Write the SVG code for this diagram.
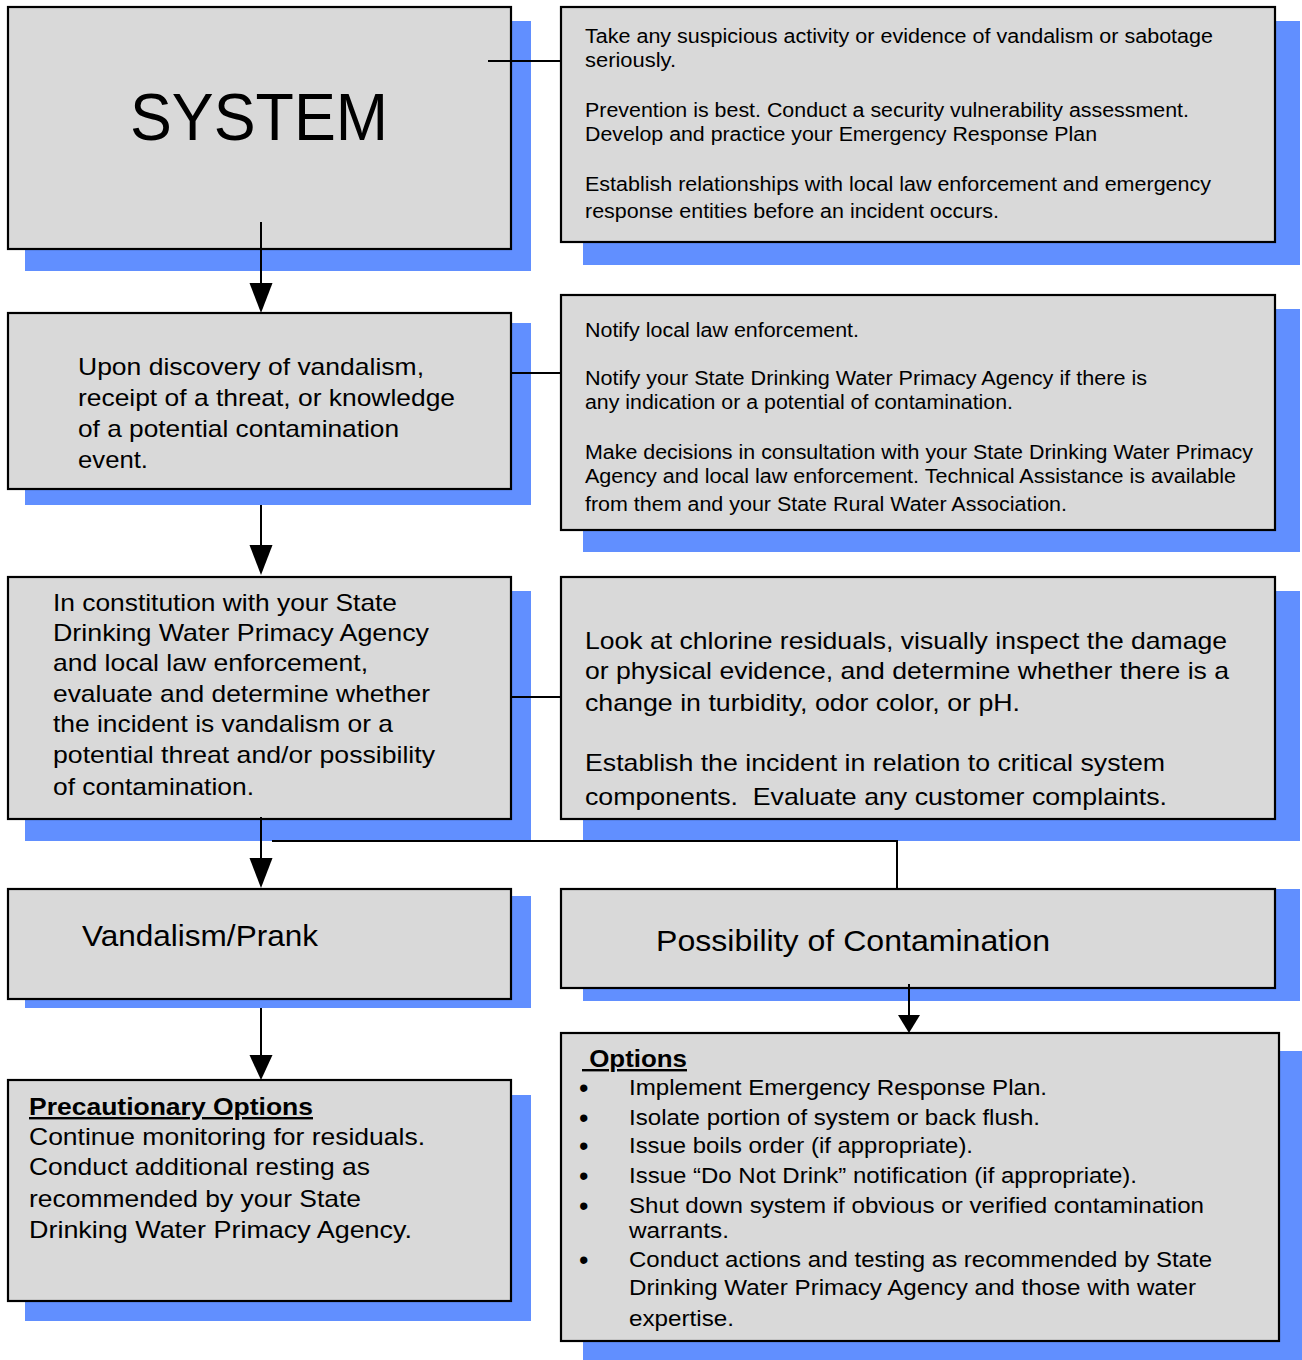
<svg xmlns="http://www.w3.org/2000/svg" width="1302" height="1360" viewBox="0 0 1302 1360">
<defs>
<style>
.sh{fill:#618fff;}
.bx{fill:#d9d9d9;stroke:#000;stroke-width:2.2;}
text{font-family:"Liberation Sans",Arial,sans-serif;fill:#000;}
.s20{font-size:20px;}
.s22{font-size:22px;}
.s24{font-size:24px;}
.b{font-weight:bold;text-decoration:underline;}
.ln{stroke:#000;stroke-width:2;fill:none;}
.bul{font-size:27px;}
</style>
</defs>
<rect width="1302" height="1360" fill="#fff"/>

<g id="system">
<rect class="sh" x="25" y="21" width="506" height="250"/>
<rect class="bx" x="8" y="7" width="503" height="242"/>
<text x="130" y="140" font-size="67" textLength="258" lengthAdjust="spacingAndGlyphs">SYSTEM</text>
</g>

<g id="prevention">
<rect class="sh" x="583" y="21" width="717" height="244"/>
<rect class="bx" x="561" y="7" width="714" height="235"/>
<text class="s20" x="585" y="43" textLength="628" lengthAdjust="spacingAndGlyphs">Take any suspicious activity or evidence of vandalism or sabotage</text>
<text class="s20" x="585" y="67" textLength="91" lengthAdjust="spacingAndGlyphs">seriously.</text>
<text class="s20" x="585" y="117" textLength="604" lengthAdjust="spacingAndGlyphs">Prevention is best. Conduct a security vulnerability assessment.</text>
<text class="s20" x="585" y="141" textLength="512" lengthAdjust="spacingAndGlyphs">Develop and practice your Emergency Response Plan</text>
<text class="s20" x="585" y="191" textLength="626" lengthAdjust="spacingAndGlyphs">Establish relationships with local law enforcement and emergency</text>
<text class="s20" x="585" y="218" textLength="414" lengthAdjust="spacingAndGlyphs">response entities before an incident occurs.</text>
</g>

<g id="discovery">
<rect class="sh" x="25" y="323" width="506" height="182"/>
<rect class="bx" x="8" y="313" width="503" height="176"/>
<text class="s24" x="78" y="375" textLength="346" lengthAdjust="spacingAndGlyphs">Upon discovery of vandalism,</text>
<text class="s24" x="78" y="406" textLength="377" lengthAdjust="spacingAndGlyphs">receipt of a threat, or knowledge</text>
<text class="s24" x="78" y="437" textLength="321" lengthAdjust="spacingAndGlyphs">of a potential contamination</text>
<text class="s24" x="78" y="468" textLength="70" lengthAdjust="spacingAndGlyphs">event.</text>
</g>

<g id="notify">
<rect class="sh" x="583" y="309" width="717" height="243"/>
<rect class="bx" x="561" y="295" width="714" height="235"/>
<text class="s20" x="585" y="337" textLength="274" lengthAdjust="spacingAndGlyphs">Notify local law enforcement.</text>
<text class="s20" x="585" y="385" textLength="562" lengthAdjust="spacingAndGlyphs">Notify your State Drinking Water Primacy Agency if there is</text>
<text class="s20" x="585" y="409" textLength="428" lengthAdjust="spacingAndGlyphs">any indication or a potential of contamination.</text>
<text class="s20" x="585" y="459" textLength="668" lengthAdjust="spacingAndGlyphs">Make decisions in consultation with your State Drinking Water Primacy</text>
<text class="s20" x="585" y="483" textLength="651" lengthAdjust="spacingAndGlyphs">Agency and local law enforcement. Technical Assistance is available</text>
<text class="s20" x="585" y="511" textLength="482" lengthAdjust="spacingAndGlyphs">from them and your State Rural Water Association.</text>
</g>

<g id="evaluate">
<rect class="sh" x="25" y="591" width="506" height="250"/>
<rect class="bx" x="8" y="577" width="503" height="242"/>
<text class="s24" x="53" y="611" textLength="344" lengthAdjust="spacingAndGlyphs">In constitution with your State</text>
<text class="s24" x="53" y="641" textLength="376" lengthAdjust="spacingAndGlyphs">Drinking Water Primacy Agency</text>
<text class="s24" x="53" y="671" textLength="315" lengthAdjust="spacingAndGlyphs">and local law enforcement,</text>
<text class="s24" x="53" y="702" textLength="377" lengthAdjust="spacingAndGlyphs">evaluate and determine whether</text>
<text class="s24" x="53" y="732" textLength="340" lengthAdjust="spacingAndGlyphs">the incident is vandalism or a</text>
<text class="s24" x="53" y="763" textLength="382" lengthAdjust="spacingAndGlyphs">potential threat and/or possibility</text>
<text class="s24" x="53" y="795" textLength="201" lengthAdjust="spacingAndGlyphs">of contamination.</text>
</g>

<g id="inspect">
<rect class="sh" x="583" y="591" width="717" height="250"/>
<rect class="bx" x="561" y="577" width="714" height="242"/>
<text class="s24" x="585" y="649" textLength="642" lengthAdjust="spacingAndGlyphs">Look at chlorine residuals, visually inspect the damage</text>
<text class="s24" x="585" y="679" textLength="644" lengthAdjust="spacingAndGlyphs">or physical evidence, and determine whether there is a</text>
<text class="s24" x="585" y="711" textLength="435" lengthAdjust="spacingAndGlyphs">change in turbidity, odor color, or pH.</text>
<text class="s24" x="585" y="771" textLength="580" lengthAdjust="spacingAndGlyphs">Establish the incident in relation to critical system</text>
<text class="s24" x="585" y="805" textLength="582" lengthAdjust="spacingAndGlyphs" xml:space="preserve">components.  Evaluate any customer complaints.</text>
</g>

<g id="vandalism">
<rect class="sh" x="25" y="896" width="506" height="112"/>
<rect class="bx" x="8" y="889" width="503" height="110"/>
<text x="82" y="946" font-size="29" textLength="236" lengthAdjust="spacingAndGlyphs">Vandalism/Prank</text>
</g>

<g id="possibility">
<rect class="sh" x="583" y="889" width="717" height="112"/>
<rect class="bx" x="561" y="889" width="714" height="99"/>
<text x="656" y="951" font-size="30" textLength="394" lengthAdjust="spacingAndGlyphs">Possibility of Contamination</text>
</g>

<g id="precautionary">
<rect class="sh" x="25" y="1095" width="506" height="226"/>
<rect class="bx" x="8" y="1080" width="503" height="221"/>
<text class="s24 b" x="29" y="1115" textLength="284" lengthAdjust="spacingAndGlyphs">Precautionary Options</text>
<text class="s24" x="29" y="1145" textLength="396" lengthAdjust="spacingAndGlyphs">Continue monitoring for residuals.</text>
<text class="s24" x="29" y="1175" textLength="341" lengthAdjust="spacingAndGlyphs">Conduct additional resting as</text>
<text class="s24" x="29" y="1207" textLength="332" lengthAdjust="spacingAndGlyphs">recommended by your State</text>
<text class="s24" x="29" y="1238" textLength="383" lengthAdjust="spacingAndGlyphs">Drinking Water Primacy Agency.</text>
</g>

<g id="options">
<rect class="sh" x="583" y="1051" width="719" height="309"/>
<rect class="bx" x="561" y="1033" width="718" height="308"/>
<text class="s24 b" x="582" y="1067" textLength="105" lengthAdjust="spacingAndGlyphs" xml:space="preserve"> Options</text>
<g class="bul">
<text x="579" y="1097">•</text>
<text x="579" y="1127">•</text>
<text x="579" y="1155">•</text>
<text x="579" y="1185">•</text>
<text x="579" y="1215">•</text>
<text x="579" y="1269">•</text>
</g>
<text class="s22" x="629" y="1095" textLength="418" lengthAdjust="spacingAndGlyphs">Implement Emergency Response Plan.</text>
<text class="s22" x="629" y="1125" textLength="411" lengthAdjust="spacingAndGlyphs">Isolate portion of system or back flush.</text>
<text class="s22" x="629" y="1153" textLength="344" lengthAdjust="spacingAndGlyphs">Issue boils order (if appropriate).</text>
<text class="s22" x="629" y="1183" textLength="508" lengthAdjust="spacingAndGlyphs">Issue “Do Not Drink” notification (if appropriate).</text>
<text class="s22" x="629" y="1213" textLength="575" lengthAdjust="spacingAndGlyphs">Shut down system if obvious or verified contamination</text>
<text class="s22" x="629" y="1238" textLength="100" lengthAdjust="spacingAndGlyphs">warrants.</text>
<text class="s22" x="629" y="1267" textLength="583" lengthAdjust="spacingAndGlyphs">Conduct actions and testing as recommended by State</text>
<text class="s22" x="629" y="1295" textLength="567" lengthAdjust="spacingAndGlyphs">Drinking Water Primacy Agency and those with water</text>
<text class="s22" x="629" y="1326" textLength="105" lengthAdjust="spacingAndGlyphs">expertise.</text>
</g>

<g id="connectors">
<line class="ln" x1="488" y1="61" x2="561" y2="61"/>
<line class="ln" x1="511" y1="373" x2="561" y2="373"/>
<line class="ln" x1="511" y1="697" x2="561" y2="697"/>
<path class="ln" d="M261,222 V286"/>
<path d="M249.5,283 L272.5,283 L261,313 Z" fill="#000"/>
<path class="ln" d="M261,505 V548"/>
<path d="M249.5,545 L272.5,545 L261,575 Z" fill="#000"/>
<path class="ln" d="M261,817 V861"/>
<path d="M249.5,858 L272.5,858 L261,888 Z" fill="#000"/>
<path class="ln" d="M272,841 H897 V889"/>
<path class="ln" d="M909,984 V1018"/>
<path d="M898,1015 L920,1015 L909,1033 Z" fill="#000"/>
<path class="ln" d="M261,1008 V1058"/>
<path d="M249.5,1055 L272.5,1055 L261,1080 Z" fill="#000"/>
</g>
</svg>
